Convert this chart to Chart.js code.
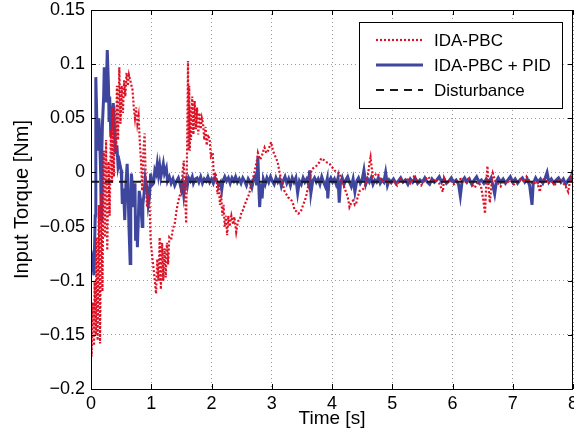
<!DOCTYPE html>
<html>
<head>
<meta charset="utf-8">
<script src="https://cdn.jsdelivr.net/npm/chart.js@4"></script>
<style>
  body { margin: 0; background: #fff; }
  canvas { display: block; }
</style>
</head>
<body>
<canvas id="torque" width="574" height="432"></canvas>
<script>
// [time s, torque Nm]
const idaPbc = [
  [0.00,-0.150],[0.01,-0.170],[0.03,-0.120],[0.05,-0.160],[0.06,-0.100],[0.08,-0.150],
  [0.09,-0.060],[0.11,-0.155],[0.13,-0.030],[0.15,-0.158],[0.17,-0.020],[0.19,-0.110],
  [0.21,0.020],[0.23,-0.060],[0.25,0.030],[0.27,-0.072],[0.29,0.010],[0.31,-0.040],
  [0.33,0.040],[0.35,-0.010],[0.36,0.060],[0.38,-0.004],[0.40,0.060],[0.42,0.020],
  [0.43,0.080],[0.45,0.030],[0.47,0.097],[0.49,0.045],[0.51,0.080],[0.53,0.055],
  [0.55,0.085],[0.57,0.070],[0.59,0.092],[0.61,0.080],[0.63,0.090],[0.66,0.083],
  [0.69,0.076],[0.71,0.060],[0.73,0.050],[0.75,0.060],[0.77,0.045],[0.79,0.052],
  [0.81,0.028],[0.83,0.010],[0.85,-0.017],[0.87,0.020],[0.89,0.036],[0.91,-0.010],
  [0.93,-0.032],[0.95,-0.020],[0.97,-0.026],[0.99,-0.063],[1.02,-0.080],[1.05,-0.095],
  [1.08,-0.112],[1.10,-0.080],[1.12,-0.100],[1.14,-0.060],[1.16,-0.108],[1.18,-0.065],
  [1.20,-0.100],[1.22,-0.070],[1.24,-0.097],[1.26,-0.065],[1.28,-0.085],[1.30,-0.060],
  [1.33,-0.062],[1.36,-0.052],[1.39,-0.047],[1.42,-0.035],[1.44,-0.029],[1.47,-0.022],
  [1.50,-0.017],[1.52,0.000],[1.54,0.011],[1.56,-0.020],[1.58,-0.047],[1.60,0.050],
  [1.61,0.103],[1.62,0.020],[1.63,0.080],[1.64,0.020],[1.65,0.060],[1.66,0.030],
  [1.68,0.070],[1.70,0.035],[1.72,0.066],[1.74,0.040],[1.76,0.060],[1.78,0.035],
  [1.80,0.055],[1.82,0.040],[1.84,0.050],[1.86,0.045],[1.88,0.030],[1.90,0.042],
  [1.92,0.025],[1.94,0.035],[1.97,0.030],[1.99,0.015],[2.02,0.018],[2.04,-0.005],
  [2.06,0.000],[2.08,-0.004],[2.10,-0.020],[2.12,-0.010],[2.14,-0.030],[2.16,-0.020],
  [2.18,-0.040],[2.20,-0.030],[2.22,-0.050],[2.24,-0.040],[2.26,-0.058],[2.28,-0.040],
  [2.30,-0.050],[2.33,-0.040],[2.36,-0.048],[2.38,-0.041],[2.41,-0.055],[2.44,-0.045],
  [2.47,-0.044],[2.50,-0.036],[2.52,-0.035],[2.55,-0.030],[2.58,-0.026],[2.61,-0.022],
  [2.63,-0.019],[2.66,-0.010],[2.69,-0.005],[2.72,0.002],[2.75,0.010],[2.77,0.018],
  [2.80,0.012],[2.83,0.014],[2.86,0.020],[2.88,0.023],[2.91,0.018],[2.94,0.020],
  [2.97,0.025],[2.99,0.028],[3.02,0.020],[3.05,0.016],[3.08,0.012],[3.10,0.009],
  [3.13,0.000],[3.16,-0.007],[3.19,-0.012],[3.21,-0.017],[3.24,-0.020],[3.27,-0.023],
  [3.30,-0.024],[3.33,-0.026],[3.36,-0.030],[3.38,-0.035],[3.41,-0.036],[3.44,-0.038],
  [3.47,-0.037],[3.49,-0.035],[3.52,-0.030],[3.55,-0.026],[3.58,-0.020],[3.60,-0.014],
  [3.63,-0.006],[3.66,0.002],[3.69,0.004],[3.71,0.005],[3.74,0.006],[3.77,0.008],
  [3.80,0.010],[3.82,0.013],[3.85,0.012],[3.88,0.011],[3.92,0.009],[3.96,0.008],
  [4.00,0.005],[4.04,0.002],[4.08,0.000],[4.13,-0.001],[4.16,-0.008],[4.18,-0.010],
  [4.21,-0.015],[4.24,-0.019],[4.27,-0.025],[4.29,-0.032],[4.32,-0.028],[4.35,-0.026],
  [4.38,-0.030],[4.40,-0.029],[4.43,-0.022],[4.46,-0.017],[4.50,-0.016],[4.54,-0.014],
  [4.57,-0.008],[4.60,-0.001],[4.62,0.008],[4.64,0.014],[4.66,0.004],[4.68,-0.004],
  [4.72,-0.002],[4.76,-0.001],[4.80,-0.006],[4.84,-0.008],[4.88,-0.009],[4.92,-0.007],
  [4.97,-0.011],[5.02,-0.008],[5.08,-0.012],[5.13,-0.006],[5.18,-0.009],[5.24,-0.005],
  [5.30,-0.010],[5.36,-0.004],[5.42,-0.008],[5.48,-0.012],[5.54,-0.007],[5.60,-0.004],
  [5.66,-0.009],[5.72,-0.006],[5.78,-0.010],[5.84,-0.018],[5.86,-0.005],[5.90,-0.010],
  [5.96,-0.007],[6.02,-0.011],[6.08,-0.008],[6.14,-0.006],[6.20,-0.010],[6.26,-0.006],
  [6.32,-0.011],[6.37,-0.014],[6.42,-0.009],[6.47,-0.012],[6.51,-0.025],[6.54,-0.038],
  [6.56,-0.010],[6.58,0.006],[6.60,-0.015],[6.62,-0.028],[6.65,-0.010],[6.67,-0.001],
  [6.71,-0.008],[6.75,-0.010],[6.80,-0.013],[6.85,-0.008],[6.90,-0.010],[6.96,-0.007],
  [7.02,-0.011],[7.08,-0.008],[7.14,-0.006],[7.20,-0.009],[7.23,-0.004],[7.28,-0.008],
  [7.34,-0.011],[7.40,-0.008],[7.45,-0.018],[7.48,-0.007],[7.53,-0.006],[7.58,-0.010],
  [7.64,-0.008],[7.70,-0.011],[7.76,-0.007],[7.82,-0.009],[7.87,-0.012],[7.92,-0.018],
  [7.95,-0.008],[7.98,-0.001],[8.00,-0.005]
]

const idaPbcPid = [
  [0.00,-0.072],[0.02,-0.080],[0.05,-0.095],[0.07,-0.040],[0.08,0.088],[0.10,0.040],
  [0.11,0.020],[0.13,0.050],[0.14,0.039],[0.16,0.000],[0.17,-0.044],[0.18,0.020],
  [0.19,0.045],[0.21,0.070],[0.22,0.097],[0.24,0.080],[0.25,0.066],[0.26,0.090],
  [0.27,0.113],[0.29,0.080],[0.30,0.048],[0.31,0.070],[0.33,0.033],[0.35,0.050],
  [0.37,0.064],[0.39,0.040],[0.41,0.017],[0.43,0.025],[0.45,0.005],[0.47,0.010],
  [0.50,0.002],[0.51,-0.010],[0.52,-0.029],[0.54,-0.015],[0.56,-0.044],[0.58,-0.010],
  [0.60,0.008],[0.62,-0.026],[0.63,-0.050],[0.65,-0.084],[0.66,-0.030],[0.67,-0.001],
  [0.69,-0.015],[0.71,-0.032],[0.73,-0.010],[0.74,-0.063],[0.76,-0.040],[0.77,-0.069],
  [0.79,-0.035],[0.80,-0.017],[0.82,-0.025],[0.83,-0.032],[0.85,-0.050],[0.86,-0.030],
  [0.88,-0.020],[0.90,-0.005],[0.93,-0.014],[0.95,-0.030],[0.97,-0.023],[0.99,-0.001],
  [1.01,-0.012],[1.04,-0.010],[1.06,0.002],[1.08,-0.001],[1.10,0.008],[1.12,-0.002],
  [1.14,0.006],[1.16,-0.004],[1.18,0.002],[1.20,0.008],[1.22,-0.001],[1.25,0.004],
  [1.27,-0.008],[1.30,-0.004],[1.33,-0.010],[1.36,-0.006],[1.39,-0.012],[1.42,-0.008],
  [1.45,-0.005],[1.48,-0.011],[1.50,-0.016],[1.52,-0.010],[1.54,-0.021],[1.56,-0.012],
  [1.58,-0.007],[1.60,-0.012],[1.62,-0.005],[1.65,-0.008],[1.68,-0.004],[1.70,-0.010],
  [1.73,-0.006],[1.76,-0.005],[1.79,-0.009],[1.82,-0.004],[1.85,-0.010],[1.88,-0.006],
  [1.91,-0.008],[1.94,-0.004],[1.97,-0.009],[2.00,-0.006],[2.03,-0.010],[2.06,-0.005],
  [2.09,-0.008],[2.12,-0.012],[2.15,-0.009],[2.17,-0.016],[2.19,-0.008],[2.22,-0.004],
  [2.25,-0.008],[2.28,-0.005],[2.31,-0.010],[2.34,-0.005],[2.37,-0.008],[2.40,-0.004],
  [2.43,-0.009],[2.46,-0.006],[2.49,-0.010],[2.52,-0.005],[2.55,-0.008],[2.58,-0.012],
  [2.61,-0.006],[2.64,-0.009],[2.67,-0.014],[2.70,-0.006],[2.73,-0.003],[2.75,-0.012],
  [2.77,0.014],[2.79,-0.020],[2.80,-0.032],[2.82,-0.010],[2.84,-0.024],[2.86,-0.006],
  [2.89,-0.011],[2.92,-0.005],[2.95,-0.009],[2.98,-0.004],[3.01,-0.008],[3.04,-0.011],
  [3.07,-0.005],[3.10,-0.009],[3.13,-0.006],[3.16,-0.013],[3.19,-0.008],[3.22,-0.004],
  [3.25,-0.010],[3.28,-0.006],[3.31,-0.012],[3.34,-0.005],[3.37,-0.009],[3.40,-0.005],
  [3.43,-0.019],[3.46,-0.008],[3.49,-0.011],[3.52,-0.005],[3.55,-0.009],[3.58,-0.006],
  [3.61,-0.011],[3.63,0.002],[3.65,-0.019],[3.68,-0.008],[3.71,-0.005],[3.74,-0.009],
  [3.77,-0.006],[3.80,-0.011],[3.83,-0.004],[3.86,-0.009],[3.89,-0.013],[3.92,-0.006],
  [3.93,-0.024],[3.95,-0.008],[3.98,-0.005],[4.01,-0.009],[4.04,-0.006],[4.07,-0.011],
  [4.10,-0.005],[4.12,-0.028],[4.14,-0.010],[4.17,-0.005],[4.20,-0.011],[4.23,-0.007],
  [4.26,-0.004],[4.29,-0.009],[4.32,-0.013],[4.35,-0.006],[4.38,-0.018],[4.41,-0.008],
  [4.44,-0.005],[4.47,-0.010],[4.50,-0.007],[4.53,0.002],[4.56,-0.011],[4.59,-0.006],
  [4.62,-0.009],[4.65,-0.005],[4.68,-0.011],[4.71,-0.007],[4.74,-0.009],[4.77,-0.005],
  [4.80,-0.010],[4.83,-0.007],[4.86,-0.009],[4.89,0.000],[4.92,-0.012],[4.95,-0.007],
  [4.98,-0.009],[5.02,-0.006],[5.06,-0.010],[5.10,-0.008],[5.14,-0.005],[5.18,-0.009],
  [5.22,-0.007],[5.26,-0.011],[5.30,-0.006],[5.34,-0.009],[5.38,-0.005],[5.42,-0.010],
  [5.46,-0.007],[5.50,-0.009],[5.54,-0.005],[5.58,-0.009],[5.62,-0.011],[5.66,-0.006],
  [5.70,-0.009],[5.74,-0.007],[5.78,-0.004],[5.82,-0.009],[5.86,-0.006],[5.90,-0.010],
  [5.94,-0.008],[5.98,-0.005],[6.02,-0.009],[6.06,-0.007],[6.10,-0.011],[6.13,-0.022],
  [6.16,-0.008],[6.20,-0.005],[6.24,-0.009],[6.28,-0.006],[6.32,-0.011],[6.36,-0.007],
  [6.40,-0.004],[6.44,-0.009],[6.48,-0.007],[6.52,-0.010],[6.56,-0.006],[6.60,-0.009],
  [6.64,-0.005],[6.67,-0.012],[6.70,-0.020],[6.73,-0.008],[6.76,-0.005],[6.80,-0.009],
  [6.84,-0.006],[6.88,-0.010],[6.92,-0.007],[6.96,-0.004],[7.00,-0.009],[7.04,-0.006],
  [7.08,-0.010],[7.12,-0.007],[7.16,-0.005],[7.20,-0.009],[7.24,-0.006],[7.28,-0.012],
  [7.32,-0.030],[7.34,-0.010],[7.38,-0.005],[7.42,-0.009],[7.46,-0.006],[7.50,-0.010],
  [7.54,-0.005],[7.57,0.000],[7.60,-0.009],[7.64,-0.006],[7.68,-0.010],[7.72,-0.007],
  [7.76,-0.005],[7.80,-0.009],[7.84,-0.006],[7.88,-0.011],[7.92,-0.007],[7.96,-0.004],
  [8.00,-0.009]
]

const disturbance = [[0, -0.0085], [8, -0.0085]]
const seriesNames = ['IDA-PBC', 'IDA-PBC + PID', 'Disturbance']

const FONT = '"Liberation Sans", Arial, sans-serif'

const toXY = (arr) => arr.map(p => ({ x: p[0], y: p[1] }))

const fmt = (v) => {
  const r = Math.round(v * 100) / 100
  return r < 0 ? '\u2212' + (-r) : String(r)
}

// box, inward tick marks and legend (matlab look)
const frame = {
  id: 'frame',
  afterDatasetsDraw(chart) {
    const { ctx, chartArea: a, scales } = chart
    ctx.save()
    ctx.strokeStyle = '#000'
    ctx.lineWidth = 1
    ctx.beginPath()
    scales.x.ticks.forEach(t => {
      const px = Math.round(scales.x.getPixelForValue(t.value)) + 0.5
      ctx.moveTo(px, a.bottom); ctx.lineTo(px, a.bottom - 5)
      ctx.moveTo(px, a.top); ctx.lineTo(px, a.top + 5)
    })
    scales.y.ticks.forEach(t => {
      const py = Math.round(scales.y.getPixelForValue(t.value)) + 0.5
      ctx.moveTo(a.left, py); ctx.lineTo(a.left + 5, py)
      ctx.moveTo(a.right, py); ctx.lineTo(a.right - 5, py)
    })
    ctx.stroke()
    ctx.strokeRect(Math.round(a.left) + 0.5, Math.round(a.top) + 0.5,
      Math.round(a.right - a.left) - 1, Math.round(a.bottom - a.top))

    // legend
    const bx = 359.5, by = 22.5, bw = 203, bh = 86
    ctx.fillStyle = '#fff'
    ctx.fillRect(bx, by, bw, bh)
    ctx.strokeRect(bx, by, bw, bh)
    ctx.font = '17px ' + FONT
    ctx.textBaseline = 'middle'
    chart.data.datasets.forEach((ds, i) => {
      const y = 40 + i * 25
      ctx.strokeStyle = ds.borderColor
      ctx.lineWidth = ds.borderWidth
      ctx.setLineDash(ds.borderDash || [])
      ctx.beginPath()
      ctx.moveTo(376, y); ctx.lineTo(423, y)
      ctx.stroke()
      ctx.setLineDash([])
      ctx.fillStyle = '#000'
      ctx.fillText(ds.label, 434, y + 1)
    })
    ctx.restore()
  }
}

new Chart(document.querySelector('#torque'), {
  type: 'line',
  data: {
    datasets: [
      {
        label: seriesNames[0],
        data: toXY(idaPbc),
        borderColor: 'rgb(222, 16, 36)',
        borderWidth: 2.2,
        borderDash: [2, 2],
        order: 1
      },
      {
        label: seriesNames[1],
        data: toXY(idaPbcPid),
        borderColor: 'rgb(62, 70, 158)',
        borderWidth: 3,
        order: 2
      },
      {
        label: seriesNames[2],
        data: toXY(disturbance),
        borderColor: '#1a1a1a',
        borderWidth: 2,
        borderDash: [8, 6],
        order: 0
      }
    ]
  },
  options: {
    responsive: false,
    animation: false,
    events: [],
    layout: { padding: { left: 0, right: 1, top: 10, bottom: 0 } },
    elements: { point: { radius: 0 }, line: { tension: 0, fill: false } },
    plugins: { legend: { display: false }, tooltip: { enabled: false } },
    scales: {
      x: {
        type: 'linear',
        min: 0, max: 8,
        ticks: { stepSize: 1, color: '#000', font: { family: FONT, size: 18 }, padding: 4, maxRotation: 0,
          callback: v => String(v) },
        grid: { color: '#9a9a9a', drawTicks: false },
        border: { display: false, dash: [1, 3] },
        title: { display: true, text: 'Time [s]', color: '#000', font: { family: FONT, size: 19 }, padding: { top: 0, bottom: 2 } },
        afterFit: s => { s.height = 43; s.paddingLeft = 0; s.paddingRight = 0 }
      },
      y: {
        min: -0.2, max: 0.15,
        ticks: { stepSize: 0.05, color: '#000', font: { family: FONT, size: 18 }, padding: 6, callback: fmt },
        grid: { color: '#9a9a9a', drawTicks: false },
        border: { display: false, dash: [1, 3] },
        title: { display: true, text: 'Input Torque [Nm]', color: '#000', font: { family: FONT, size: 20 }, padding: { top: 10, bottom: 0 } },
        afterFit: s => { s.width = 91; s.paddingTop = 0; s.paddingBottom = 0 }
      }
    }
  },
  plugins: [frame]
})
</script>
</body>
</html>
